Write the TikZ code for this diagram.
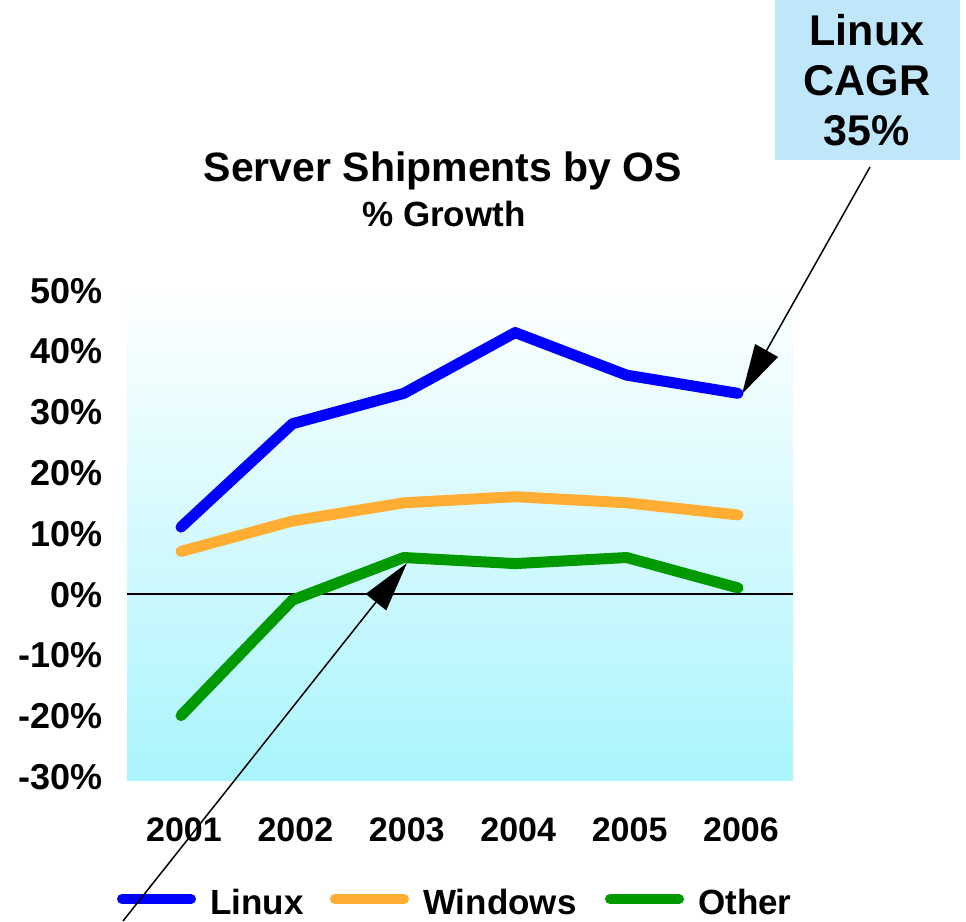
\documentclass[tikz,border=0pt]{standalone}
\usepackage{fontspec}
\setmainfont{Liberation Sans}
\usetikzlibrary{arrows.meta,positioning}

\definecolor{linuxblue}{RGB}{0,0,255}
\definecolor{winorange}{RGB}{255,173,51}
\definecolor{othergreen}{RGB}{0,153,0}
\definecolor{calloutblue}{RGB}{192,230,250}
\definecolor{plotcyan}{RGB}{170,244,252}

\begin{document}
\begin{tikzpicture}[x=1pt,y=-1pt,
series/.style={line width=11pt, line cap=round, line join=round},
keyline/.style={line width=10pt, line cap=round},
ticklabel/.style={font=\fontsize{36}{40}\selectfont\bfseries, inner sep=0pt},
yearlabel/.style={font=\fontsize{34}{40}\selectfont\bfseries, inner sep=0pt, anchor=base},
keylabel/.style={font=\fontsize{35}{40}\selectfont\bfseries, inner sep=0pt, anchor=base west},
callout/.style={fill=calloutblue, minimum width=185pt, minimum height=160pt, align=center,
  font=\fontsize{43}{50}\selectfont\bfseries},
pointer/.style={line width=1.5pt, -{Triangle[length=50pt,width=26pt]}},
info/.style={draw=none,fill=none,inner sep=0pt}]

%% local variables
\def \xo {181}
\def \dx {111.4}
\def \yo {594}
\def \dy {6.08}

\useasboundingbox (0,0) rectangle (966,921);

%% plot background
\shade[top color=white, bottom color=plotcyan] (127,285) rectangle (793,780);

%% title
\node[info, anchor=base, font=\fontsize{41}{44}\selectfont\bfseries] (title) at (443,181) {Server Shipments by OS};
\node[info, anchor=base, font=\fontsize{35}{40}\selectfont\bfseries] (subtitle) at (444,226) {\% Growth};

%% y axis labels
\foreach \v in {50,40,...,-30}
      \node[ticklabel, anchor=base east] (T\v) at (103,{\yo-\v*\dy+13}) {\v\%};

%% zero line
\coordinate (zero-l) at (127,\yo);
\coordinate (zero-r) at (793,\yo);
\draw[line width=1.5pt] (zero-l) -- (zero-r);

%% data points: year / linux / windows / other
\foreach \i/\l/\w/\o in {1/11/7/-20, 2/28/12/-1, 3/33/15/6, 4/43/16/5, 5/36/15/6, 6/33/13/1} {
      \coordinate (L-\i) at ({\xo+(\i-1)*\dx},{\yo-\l*\dy});
      \coordinate (W-\i) at ({\xo+(\i-1)*\dx},{\yo-\w*\dy});
      \coordinate (O-\i) at ({\xo+(\i-1)*\dx},{\yo-\o*\dy});
      \node[yearlabel] (Y-\i) at ({\xo+(\i-1)*\dx+3},841) {200\i};
}

%% place all series
\draw[series,winorange] (W-1) -- (W-2) -- (W-3) -- (W-4) -- (W-5) -- (W-6);
\draw[series,othergreen] (O-1) -- (O-2) -- (O-3) -- (O-4) -- (O-5) -- (O-6);
\draw[series,linuxblue] (L-1) -- (L-2) -- (L-3) -- (L-4) -- (L-5) -- (L-6);

%% legend
\foreach \c/\t/\x in {linuxblue/Linux/117, winorange/Windows/330, othergreen/Other/605} {
      \coordinate (K-\t-a) at (\x+5,899);
      \coordinate (K-\t-b) at (\x+74,899);
      \draw[keyline,\c] (K-\t-a) -- (K-\t-b);
      \node[keylabel] (K-\t) at (\x+93,914) {\t};
}

%% callout and pointers
\node[callout] (cagr) at (867,80) {Linux\\CAGR\\35\%};
\coordinate (cagr-tail) at (870,167);
\coordinate (linux-tip) at (742,394);
\draw[pointer] (cagr-tail) -- (linux-tip);

\coordinate (other-tail) at (123,921);
\coordinate (other-tip) at (407,563);
\draw[pointer] (other-tail) -- (other-tip);

\end{tikzpicture}
\end{document}
